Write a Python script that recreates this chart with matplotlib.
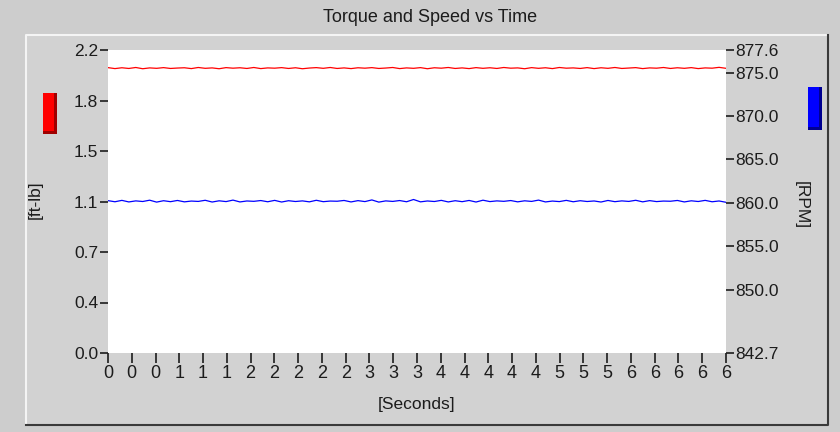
import numpy as np
import matplotlib
matplotlib.use("Agg")
import matplotlib.pyplot as plt
from matplotlib.patches import Rectangle
from matplotlib.lines import Line2D
from matplotlib.ticker import FixedLocator, FixedFormatter

# torque [ft-lb] and speed [RPM] samples
torque = [2.072, 2.065, 2.071, 2.066, 2.073, 2.064, 2.070, 2.067, 2.072, 2.066,
          2.069, 2.071, 2.065, 2.073, 2.067, 2.070, 2.064, 2.072, 2.068, 2.071,
          2.066, 2.073, 2.065, 2.070, 2.068, 2.072, 2.066, 2.071, 2.064, 2.069,
          2.072, 2.067, 2.073, 2.066, 2.070, 2.065, 2.071, 2.068, 2.072, 2.066,
          2.069, 2.073, 2.065, 2.070, 2.067, 2.072, 2.064, 2.071, 2.068, 2.073,
          2.066, 2.070, 2.065, 2.072, 2.067, 2.071, 2.066, 2.073, 2.068, 2.070,
          2.064, 2.072, 2.067, 2.071, 2.065, 2.073, 2.068, 2.070, 2.066, 2.072,
          2.065, 2.071, 2.067, 2.073, 2.066, 2.069, 2.072, 2.065, 2.070, 2.068,
          2.073, 2.066, 2.071, 2.067, 2.072, 2.065, 2.070, 2.068, 2.074, 2.067]
speed = [860.25, 860.12, 860.28, 860.10, 860.22, 860.15, 860.30, 860.08, 860.24, 860.13,
         860.27, 860.11, 860.20, 860.16, 860.29, 860.09, 860.23, 860.14, 860.31, 860.10,
         860.21, 860.17, 860.26, 860.12, 860.28, 860.09, 860.24, 860.15, 860.22, 860.11,
         860.29, 860.13, 860.20, 860.18, 860.27, 860.10, 860.25, 860.14, 860.33, 860.08,
         860.22, 860.16, 860.26, 860.12, 860.38, 860.11, 860.21, 860.15, 860.28, 860.10,
         860.24, 860.13, 860.27, 860.09, 860.30, 860.14, 860.22, 860.17, 860.26, 860.11,
         860.23, 860.16, 860.31, 860.10, 860.20, 860.14, 860.28, 860.12, 860.24, 860.15,
         860.21, 860.09, 860.27, 860.13, 860.22, 860.16, 860.29, 860.11, 860.25, 860.14,
         860.20, 860.18, 860.27, 860.10, 860.23, 860.15, 860.28, 860.12, 860.21, 860.06]
t_end = 6.5
seconds = np.linspace(0, t_end, len(torque))

x_ticks = np.arange(0, 6.51, 0.25)
x_labels = ["0", "0", "0", "1", "1", "1", "2", "2", "2", "2", "2", "3", "3", "3",
            "4", "4", "4", "4", "4", "5", "5", "5", "6", "6", "6", "6", "6"]
torque_lim = (0.0, 2.2)
torque_labels = ["0.0", "0.4", "0.7", "1.1", "1.5", "1.8", "2.2"]
speed_lim = (842.7, 877.6)
speed_ticks = [842.7, 850.0, 855.0, 860.0, 865.0, 870.0, 875.0, 877.6]
speed_labels = ["842.7", "850.0", "855.0", "860.0", "865.0", "870.0", "875.0", "877.6"]

plt.rcParams['font.family'] = ['Liberation Sans', 'DejaVu Sans']
BG = '#cdcdcd'
TXT = '#1c1c1c'
W, H = 840, 432

fig = plt.figure(figsize=(8.4, 4.32), dpi=100, facecolor=BG)

def fx(px):
    return px / W

def fy(py):
    return 1 - py / H

# bevelled panel (behind the axes)
p_l, p_t, p_r, p_b = 26, 35, 828, 425
fig.add_artist(Rectangle((fx(p_l), fy(p_b)), fx(p_r - p_l), (p_b - p_t) / H,
                         transform=fig.transFigure, facecolor='#d2d2d2', edgecolor='none',
                         zorder=-5))
fig.add_artist(Line2D([fx(p_l), fx(p_l), fx(p_r)], [fy(p_b), fy(p_t), fy(p_t)],
                      transform=fig.transFigure, color='#f4f4f4', lw=1.5, zorder=-4))
fig.add_artist(Line2D([fx(p_l), fx(p_r), fx(p_r)], [fy(p_b), fy(p_b), fy(p_t)],
                      transform=fig.transFigure, color='#3a3a3a', lw=1.5, zorder=-4))

# plot area
ax = fig.add_axes([fx(108), fy(353), fx(726 - 108), (353 - 50) / H])
ax.set_facecolor('white')
ax.plot(seconds, torque, color='#ff0000', lw=0.9)
ax.set_xlim(0, t_end)
ax.set_ylim(*torque_lim)
ax.yaxis.set_major_locator(FixedLocator(np.linspace(torque_lim[0], torque_lim[1], len(torque_labels))))
ax.yaxis.set_major_formatter(FixedFormatter(torque_labels))
ax.xaxis.set_major_locator(FixedLocator(x_ticks))
ax.xaxis.set_major_formatter(FixedFormatter(x_labels))

ax2 = ax.twinx()
ax2.plot(seconds, speed, color='#0000ff', lw=0.9)
ax2.set_ylim(*speed_lim)
ax2.yaxis.set_major_locator(FixedLocator(speed_ticks))
ax2.yaxis.set_major_formatter(FixedFormatter(speed_labels))

for a in (ax, ax2):
    for s in a.spines.values():
        s.set_visible(False)
ax.tick_params(axis='y', direction='out', length=6, width=1.2, pad=1, labelsize=12.5,
               colors=TXT)
ax2.tick_params(axis='y', direction='out', length=6, width=1.2, pad=1, labelsize=12.5,
                colors=TXT)
ax.tick_params(axis='x', direction='out', length=7, width=1.2, pad=2, colors=TXT)
for lab in ax.get_xticklabels():
    lab.set_fontfamily(['Liberation Sans Narrow', 'Liberation Sans'])
    lab.set_fontsize(13)

# texts
fig.text(fx(430), fy(18), 'Torque and Speed vs Time', ha='center', va='center',
         fontsize=13, color=TXT)
fig.text(fx(417), fy(405), '[Seconds]', ha='center', va='center', fontsize=12.5, color=TXT)
fig.text(fx(35), fy(200), '[ft-lb]', ha='center', va='center', rotation=90,
         fontsize=12.5, color=TXT)
fig.text(fx(801), fy(205), '[RPM]', ha='center', va='center', rotation=270,
         fontsize=12.5, color=TXT)

# colour indicators
def indicator(x0, y0, x1, y1, face, dark):
    fig.add_artist(Rectangle((fx(x0), fy(y1)), fx(x1 - x0), (y1 - y0) / H,
                             transform=fig.transFigure, facecolor=face, edgecolor='none'))
    fig.add_artist(Rectangle((fx(x0), fy(y1)), fx(x1 - x0), 3 / H,
                             transform=fig.transFigure, facecolor=dark, edgecolor='none'))
    fig.add_artist(Rectangle((fx(x1 - 3), fy(y1)), fx(3), (y1 - y0) / H,
                             transform=fig.transFigure, facecolor=dark, edgecolor='none'))

indicator(43, 93, 57, 134, '#ff0000', '#a00000')
indicator(808, 87, 822, 130, '#0000ff', '#000090')

fig.savefig('out.png', dpi=100, facecolor=BG)
